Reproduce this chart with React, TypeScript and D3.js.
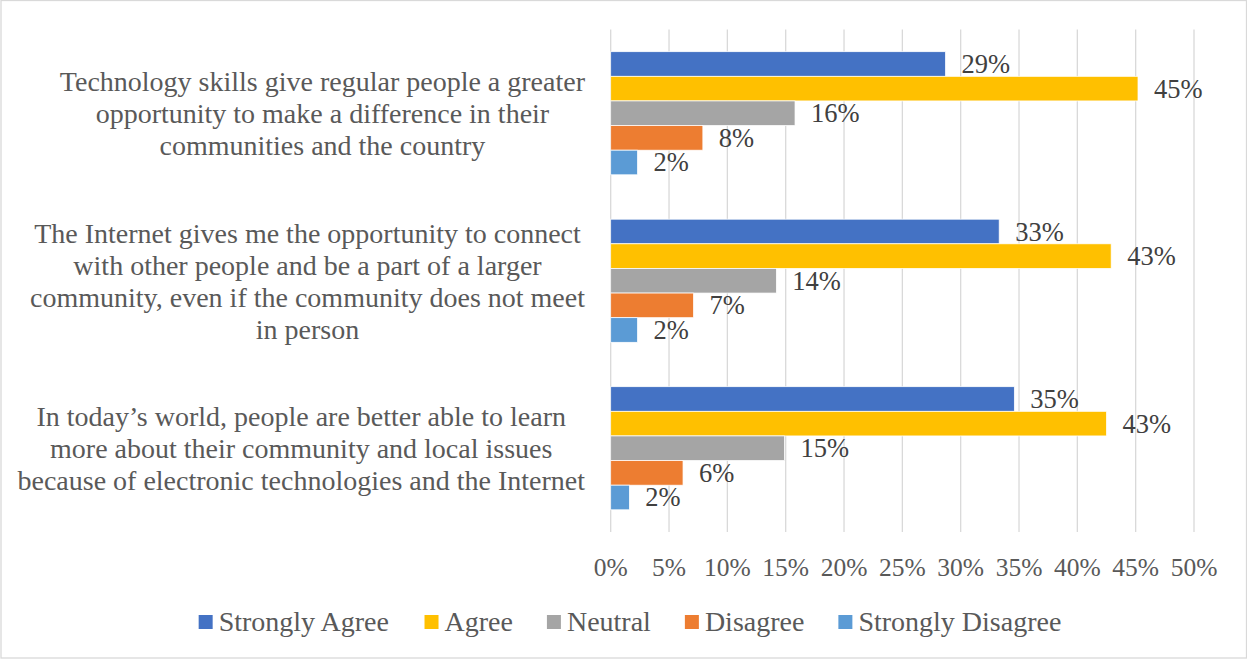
import * as d3 from "d3";

const categories = [
  "Technology skills give regular people a greater|opportunity to make a difference in their|communities and the country",
  "The Internet gives me the opportunity to connect|with other people and be a part of a larger|community, even if the community does not meet|in person",
  "In today\u2019s world, people are better able to learn|more about their community and local issues|because of electronic technologies and the Internet",
];

const seriesNames = ["Strongly Agree", "Agree", "Neutral", "Disagree", "Strongly Disagree"];
const seriesColors = ["#4472C4", "#FFC000", "#A5A5A5", "#ED7D31", "#5B9BD5"];

// one array per series, in category order (top to bottom)
const stronglyAgree = [0.287, 0.333, 0.346];
const agree = [0.452, 0.429, 0.425];
const neutral = [0.158, 0.142, 0.149];
const disagree = [0.079, 0.071, 0.062];
const stronglyDisagree = [0.023, 0.023, 0.016];
const seriesValues = [stronglyAgree, agree, neutral, disagree, stronglyDisagree];

const xTicks = [0, 0.05, 0.1, 0.15, 0.2, 0.25, 0.3, 0.35, 0.4, 0.45, 0.5];

const W = 1247;
const H = 659;
const serif = "'Liberation Serif', 'Times New Roman', serif";

const measure = (() => {
  let ctx: CanvasRenderingContext2D | null = null;
  return (text: string, size: number) => {
    if (!ctx) ctx = document.createElement("canvas").getContext("2d");
    if (!ctx) return text.length * size * 0.45;
    ctx.font = `${size}px ${serif}`;
    return ctx.measureText(text).width;
  };
})();

export default function App() {
  const x = d3.scaleLinear().domain([0, 0.5]).range([610.7, 1194]);
  const y0 = d3
    .scaleBand<number>()
    .domain(d3.range(categories.length))
    .range([29.5, 532])
    .paddingInner(0.265)
    .paddingOuter(0.1325);
  const y1 = d3
    .scaleBand<number>()
    .domain(d3.range(seriesNames.length))
    .range([0, y0.bandwidth()]);
  const pct = d3.format(".0%");

  // legend layout
  const legendSize = 28;
  const sw = 14;
  const gapText = 6;
  const gapItem = 34;
  const widths = seriesNames.map((n) => sw + gapText + measure(n, legendSize));
  const total = d3.sum(widths) + gapItem * (widths.length - 1);
  let lx = 630 - total / 2;
  const legendX = widths.map((w) => {
    const p = lx;
    lx += w + gapItem;
    return p;
  });

  const catSize = 28;
  const catRight = 585;

  return (
    <svg
      width={W}
      height={H}
      style={{ position: "absolute", left: 0, top: 0, background: "#fff" }}
      fontFamily={serif}
    >
      <rect x={1} y={0.5} width={W - 1.5} height={H - 1.5} fill="#fff" stroke="#D9D9D9" strokeWidth={1.3} />

      {/* grid */}
      {xTicks.map((t) => (
        <line
          key={t}
          x1={x(t)}
          x2={x(t)}
          y1={29.5}
          y2={532}
          stroke="#D9D9D9"
          strokeWidth={1.3}
        />
      ))}

      {/* tick labels */}
      {xTicks.map((t) => (
        <text key={t} x={x(t)} y={576} textAnchor="middle" fontSize={25.5} fill="#595959">
          {pct(t)}
        </text>
      ))}

      {/* category labels: centred lines, block right-aligned to the axis */}
      {categories.map((c, i) => {
        const lines = c.split("|");
        const maxW = d3.max(lines, (l) => measure(l, catSize)) ?? 0;
        const cx = catRight - maxW / 2;
        const cy = y0(i)! + y0.bandwidth() / 2;
        const lh = 32;
        return (
          <text key={i} textAnchor="middle" fontSize={catSize} fill="#595959">
            {lines.map((l, j) => (
              <tspan key={j} x={cx} y={cy + (j - (lines.length - 1) / 2) * lh + 10}>
                {l}
              </tspan>
            ))}
          </text>
        );
      })}

      {/* bars */}
      {categories.map((_, i) => (
        <g key={i} transform={`translate(0,${y0(i)})`}>
          {seriesValues.map((vals, s) => (
            <g key={s}>
              <rect
                x={x(0)}
                y={y1(s)}
                width={x(vals[i]) - x(0)}
                height={y1.bandwidth()}
                fill={seriesColors[s]}
                stroke="#fff"
                strokeWidth={0.75}
              />
              <text
                x={x(vals[i]) + 16}
                y={y1(s)! + y1.bandwidth() / 2 + 9}
                fontSize={26.5}
                fill="#404040"
              >
                {pct(vals[i])}
              </text>
            </g>
          ))}
        </g>
      ))}

      {/* legend */}
      {seriesNames.map((n, s) => (
        <g key={n} transform={`translate(${legendX[s]},0)`}>
          <rect x={0} y={615} width={sw} height={sw} fill={seriesColors[s]} />
          <text x={sw + gapText} y={631} fontSize={legendSize} fill="#595959">
            {n}
          </text>
        </g>
      ))}
    </svg>
  );
}
